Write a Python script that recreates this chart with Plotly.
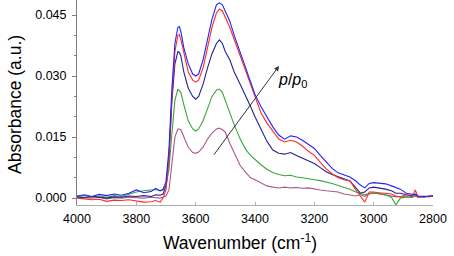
import plotly.graph_objects as go

# Wavenumber grid (cm^-1)
wavenumber = [4000, 3975, 3950, 3925, 3900, 3875, 3850, 3825, 3800, 3775, 3750, 3735, 3720, 3710,
              3700, 3690, 3680, 3670, 3660, 3655, 3650, 3640, 3625, 3610, 3600, 3590, 3575, 3560,
              3545, 3530, 3520, 3510, 3500, 3485, 3470, 3450, 3430, 3415, 3400, 3380, 3360, 3340,
              3320, 3300, 3280, 3260, 3240, 3220, 3200, 3180, 3160, 3140, 3120, 3100, 3080, 3060,
              3045, 3030, 3015, 3000, 2980, 2960, 2940, 2925, 2910, 2890, 2870, 2860, 2850, 2830,
              2815, 2800]

blue = [0.0005, 0.0008, 0.0004, 0.0009, 0.0006, 0.0010, 0.0007, 0.0012, 0.0020, 0.0013, 0.0016, 0.0024, 0.0018, 0.0022,
        0.0040, 0.0120, 0.0270, 0.0380, 0.0420, 0.0422, 0.0410, 0.0370, 0.0330, 0.0305, 0.0300, 0.0305, 0.0340, 0.0390,
        0.0440, 0.0475, 0.0480, 0.0475, 0.0460, 0.0435, 0.0400, 0.0360, 0.0320, 0.0290, 0.0255, 0.0225, 0.0200, 0.0175,
        0.0155, 0.0145, 0.0153, 0.0150, 0.0142, 0.0133, 0.0122, 0.0105, 0.0088, 0.0073, 0.0062, 0.0057, 0.0052, 0.0042,
        0.0032, 0.0025, 0.0036, 0.0038, 0.0037, 0.0035, 0.0030, 0.0025, 0.0022, 0.0012, 0.0010, 0.0008, 0.0005, 0.0003,
        0.0005, 0.0005]

red = [0.0000, -0.0002, -0.0004, -0.0003, -0.0008, -0.0005, -0.0006, -0.0004, -0.0007, -0.0010, -0.0009, -0.0006, -0.0010, 0.0000,
       0.0020, 0.0100, 0.0250, 0.0360, 0.0400, 0.0402, 0.0390, 0.0355, 0.0310, 0.0290, 0.0285, 0.0290, 0.0320, 0.0370,
       0.0420, 0.0455, 0.0465, 0.0460, 0.0445, 0.0420, 0.0390, 0.0350, 0.0310, 0.0280, 0.0245, 0.0210, 0.0185, 0.0165,
       0.0145, 0.0138, 0.0142, 0.0138, 0.0128, 0.0115, 0.0105, 0.0088, 0.0072, 0.0060, 0.0050, 0.0045, 0.0042, 0.0020,
       0.0005, -0.0010, 0.0015, 0.0015, 0.0013, 0.0012, 0.0010, 0.0005, 0.0003, 0.0008, 0.0003, 0.0020, 0.0003, 0.0005,
       0.0003, 0.0005]

navy = [0.0003, 0.0001, 0.0004, 0.0002, 0.0000, 0.0003, 0.0002, 0.0005, 0.0004, 0.0006, 0.0004, 0.0008, 0.0007, 0.0010,
        0.0030, 0.0100, 0.0240, 0.0330, 0.0360, 0.0358, 0.0350, 0.0310, 0.0270, 0.0250, 0.0243, 0.0250, 0.0280, 0.0320,
        0.0355, 0.0380, 0.0389, 0.0380, 0.0360, 0.0340, 0.0310, 0.0280, 0.0250, 0.0225, 0.0200, 0.0170, 0.0140, 0.0118,
        0.0110, 0.0108, 0.0112, 0.0105, 0.0098, 0.0092, 0.0085, 0.0075, 0.0065, 0.0058, 0.0052, 0.0047, 0.0042, 0.0025,
        0.0012, 0.0015, 0.0025, 0.0027, 0.0025, 0.0022, 0.0018, 0.0012, 0.0012, 0.0008, 0.0006, 0.0010, 0.0004, 0.0003,
        0.0004, 0.0005]

green = [0.0004, 0.0006, 0.0003, 0.0005, 0.0002, 0.0006, 0.0004, 0.0010, 0.0015, 0.0018, 0.0020, 0.0021, 0.0018, 0.0020,
         0.0030, 0.0070, 0.0160, 0.0240, 0.0268, 0.0265, 0.0260, 0.0230, 0.0190, 0.0170, 0.0165, 0.0170, 0.0190, 0.0220,
         0.0250, 0.0265, 0.0268, 0.0260, 0.0240, 0.0205, 0.0180, 0.0145, 0.0118, 0.0105, 0.0095, 0.0082, 0.0071, 0.0063,
         0.0058, 0.0055, 0.0056, 0.0052, 0.0050, 0.0047, 0.0045, 0.0043, 0.0040, 0.0036, 0.0031, 0.0027, 0.0022, 0.0015,
         0.0012, 0.0008, 0.0012, 0.0013, 0.0011, 0.0008, 0.0002, -0.0017, 0.0000, 0.0003, 0.0002, 0.0006, 0.0002, 0.0003,
         0.0004, 0.0005]

purple = [0.0002, 0.0001, 0.0000, 0.0002, -0.0002, 0.0001, 0.0000, 0.0002, 0.0001, 0.0000, 0.0002, 0.0001, 0.0000, 0.0002,
          0.0005, 0.0020, 0.0080, 0.0150, 0.0170, 0.0170, 0.0168, 0.0150, 0.0125, 0.0112, 0.0110, 0.0113, 0.0125, 0.0145,
          0.0160, 0.0170, 0.0172, 0.0168, 0.0162, 0.0135, 0.0110, 0.0080, 0.0062, 0.0050, 0.0045, 0.0037, 0.0030, 0.0027,
          0.0025, 0.0027, 0.0025, 0.0026, 0.0024, 0.0025, 0.0022, 0.0020, 0.0018, 0.0016, 0.0015, 0.0010, 0.0007, 0.0005,
          0.0008, 0.0004, 0.0010, 0.0012, 0.0010, 0.0008, 0.0006, 0.0003, 0.0004, 0.0003, 0.0002, 0.0005, 0.0002, 0.0003,
          0.0004, 0.0005]

y_tickvals = [0.000, 0.015, 0.030, 0.045]
y_ticktext = ["0.000", "0.015", "0.030", "0.045"]
x_tickvals = [4000, 3800, 3600, 3400, 3200, 3000, 2800]
x_ticktext = ["4000", "3800", "3600", "3400", "3200", "3000", "2800"]

series = [
    ("purple", purple, "#a8588a"),
    ("green", green, "#3aa53a"),
    ("navy", navy, "#23238c"),
    ("red", red, "#ff2a2a"),
    ("blue", blue, "#2222ff"),
]

FONT = "Arial, 'Liberation Sans', sans-serif"

fig = go.Figure()
for name, vals, col in series:
    fig.add_trace(go.Scatter(x=wavenumber, y=vals, mode="lines", name=name,
                             line=dict(color=col, width=1.1), showlegend=False))

fig.update_layout(
    width=454, height=256,
    margin=dict(l=77, r=21, t=0, b=51, autoexpand=False),
    paper_bgcolor="white", plot_bgcolor="white",
    font=dict(family=FONT, color="black", size=12),
    xaxis=dict(range=[4000, 2800], showgrid=False, zeroline=False,
               showline=True, linecolor="#b0b0b0", linewidth=1,
               ticks="inside", ticklen=3, tickcolor="#b0b0b0",
               tickvals=x_tickvals, ticktext=x_ticktext, ticklabelstandoff=2,
               tickfont=dict(size=12.5, family=FONT, color="black")),
    yaxis=dict(range=[-0.0017, 0.0487], showgrid=False, zeroline=False,
               showline=True, linecolor="#808080", linewidth=1,
               ticks="outside", ticklen=4, tickcolor="#808080",
               tickvals=y_tickvals, ticktext=y_ticktext, ticklabelstandoff=3,
               minor=dict(dtick=0.005, ticks="outside", ticklen=2, tickcolor="#808080"),
               tickfont=dict(size=12.5, family=FONT, color="black")),
    annotations=[
        dict(x=3319, y=0.0325, ax=3542, ay=0.0103, xref="x", yref="y", axref="x", ayref="y",
             text="", showarrow=True, arrowhead=2, arrowsize=1, arrowwidth=1, arrowcolor="#333333"),
        dict(x=3272, y=0.0290, xref="x", yref="y", showarrow=False,
             text="<i>p</i>/<i>p</i><sub>0</sub>", font=dict(size=16, family=FONT, color="black")),
        dict(x=(15 - 77) / 356, y=(205 - 105) / 205, xref="paper", yref="paper", showarrow=False,
             xanchor="center", yanchor="middle",
             text="Absorbance (a.u.)", textangle=-90, font=dict(size=17.5, family=FONT, color="black")),
        dict(x=(240 - 77) / 356, y=(205 - 242) / 205, xref="paper", yref="paper", showarrow=False,
             xanchor="center", yanchor="middle",
             text="Wavenumber (cm<sup>-1</sup>)", font=dict(size=17.5, family=FONT, color="black")),
    ],
)

fig.write_html("out.html", config={"displayModeBar": False},
               post_script="document.body.style.margin='0';")
